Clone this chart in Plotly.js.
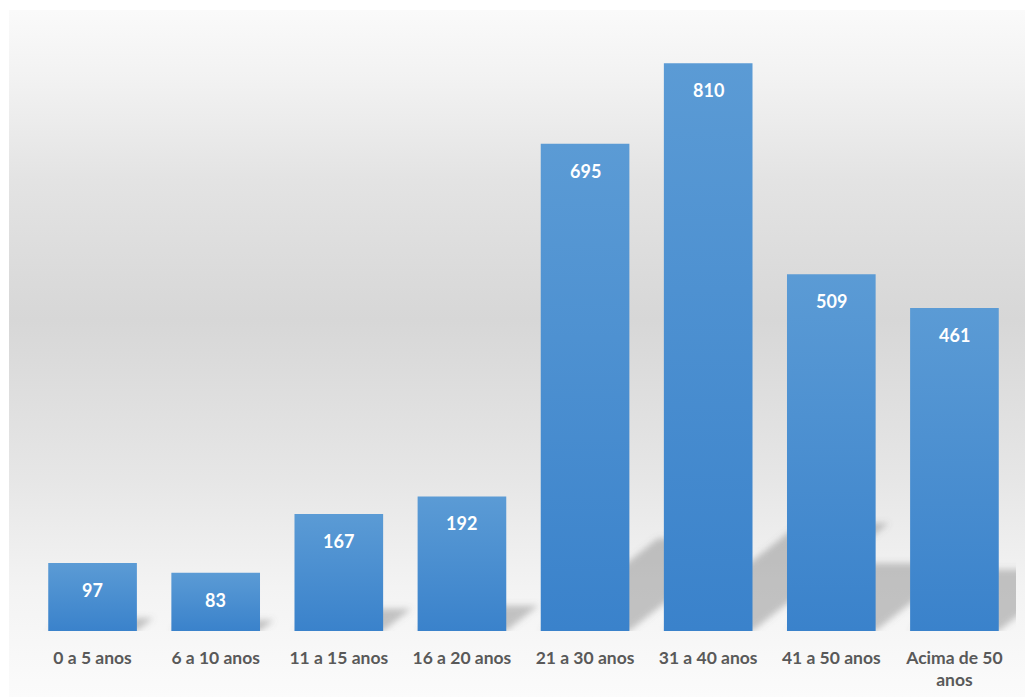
<!DOCTYPE html>
<html>
<head>
<meta charset="utf-8">
<script src="https://cdn.plot.ly/plotly-3.0.1.min.js"></script>
<style>
  html, body { margin: 0; padding: 0; background: #ffffff; }
  #wrap { position: relative; width: 1029px; height: 697px; overflow: hidden; }
  #bg { position: absolute; left: 9px; top: 10px; width: 1016px; height: 687px;
        background: linear-gradient(to bottom, #fafafa 0%, #f2f2f2 10%, #e3e3e3 25%, #d7d7d7 45%, #e6e6e6 68%, #f3f3f3 84%, #fbfbfb 100%); }
  #chart { position: absolute; left: 0; top: 0; width: 1029px; height: 697px; }
</style>
</head>
<body>
<div id="wrap"><div id="bg"></div><div id="chart"></div></div>
<script>
const categories = ["0 a 5 anos", "6 a 10 anos", "11 a 15 anos", "16 a 20 anos",
                    "21 a 30 anos", "31 a 40 anos", "41 a 50 anos", "Acima de 50<br>anos"];
const values = [97, 83, 167, 192, 695, 810, 509, 461];

const trace = {
  type: "bar",
  x: categories,
  y: values,
  marker: { color: "#4a8fd6", line: { width: 0 } },
  hoverinfo: "skip"
};

const annotations = categories.map((c, i) => ({
  x: c, y: values[i], xref: "x", yref: "y",
  text: String(values[i]), showarrow: false,
  yanchor: "top", yshift: -14,
  font: { family: "Lato, 'Open Sans', sans-serif", size: 18, color: "#ffffff", weight: "bold" }
}));

const layout = {
  width: 1029, height: 697,
  margin: { l: 31, r: 13, t: 10, b: 66 },
  paper_bgcolor: "rgba(0,0,0,0)",
  plot_bgcolor: "rgba(0,0,0,0)",
  bargap: 0.28,
  showlegend: false,
  xaxis: {
    type: "category",
    showgrid: false, zeroline: false, showline: false, ticks: "",
    ticklabelstandoff: 14,
    tickfont: { family: "Lato, 'Open Sans', sans-serif", size: 17.5, color: "#595959", weight: "bold" }
  },
  yaxis: {
    range: [0, 886], visible: false, showgrid: false, zeroline: false
  },
  annotations: annotations
};

Plotly.newPlot("chart", [trace], layout, { staticPlot: true, displayModeBar: false }).then(gd => {
  const svg = gd.querySelector(".main-svg");
  const ns = "http://www.w3.org/2000/svg";
  let defs = svg.querySelector("defs");
  if (!defs) { defs = document.createElementNS(ns, "defs"); svg.insertBefore(defs, svg.firstChild); }

  const lg = document.createElementNS(ns, "linearGradient");
  lg.setAttribute("id", "barGrad");
  lg.setAttribute("x1", "0"); lg.setAttribute("y1", "0");
  lg.setAttribute("x2", "0"); lg.setAttribute("y2", "1");
  [["0", "#5b9bd5"], ["1", "#3a82cb"]].forEach(([o, c]) => {
    const s = document.createElementNS(ns, "stop");
    s.setAttribute("offset", o); s.setAttribute("stop-color", c);
    lg.appendChild(s);
  });
  defs.appendChild(lg);

  const filt = document.createElementNS(ns, "filter");
  filt.setAttribute("id", "shadowBlur");
  filt.setAttribute("x", "-20%"); filt.setAttribute("y", "-20%");
  filt.setAttribute("width", "140%"); filt.setAttribute("height", "140%");
  const blur = document.createElementNS(ns, "feGaussianBlur");
  blur.setAttribute("stdDeviation", "3");
  filt.appendChild(blur);
  defs.appendChild(filt);

  const paths = gd.querySelectorAll(".bars .point path");
  const barlayer = gd.querySelector(".barlayer");
  const sg = document.createElementNS(ns, "g");
  sg.setAttribute("filter", "url(#shadowBlur)");
  barlayer.parentNode.insertBefore(sg, barlayer);
  paths.forEach(p => {
    p.style.fill = "url(#barGrad)";
    const b = p.getBBox();
    const x0 = b.x, x1 = b.x + b.width, y0 = b.y + b.height, h = b.height;
    const dx = 0.24 * h, dy = 0.19 * h;
    const poly = document.createElementNS(ns, "polygon");
    poly.setAttribute("points",
      `${x0},${y0} ${x1},${y0} ${x1 + dx},${y0 - dy} ${x0 + dx},${y0 - dy}`);
    poly.setAttribute("fill", "rgba(110,110,110,0.38)");
    sg.appendChild(poly);
  });
});
</script>
</body>
</html>
